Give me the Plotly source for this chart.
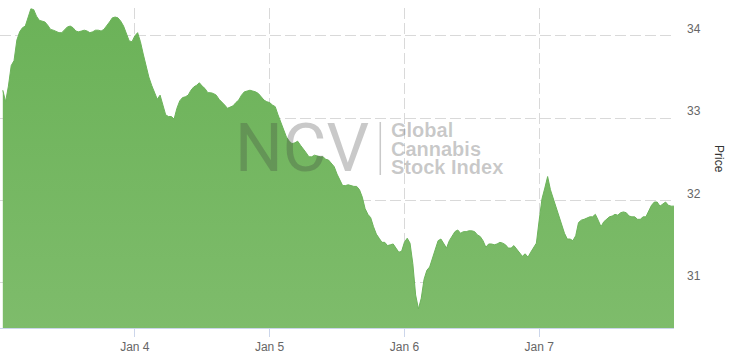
import pandas as pd
import plotly.graph_objects as go

# Half-hourly index values, Jan 3 00:30 -> Jan 8 00:00
start_time = "2021-01-03 00:30"
step = "30min"
price = [
    33.34, 33.20, 33.39, 33.64, 33.70, 33.95, 34.05, 34.10, 34.12, 34.22,
    34.33, 34.32, 34.24, 34.19, 34.18, 34.17, 34.13, 34.08, 34.07, 34.05,
    34.04, 34.04, 34.07, 34.11, 34.12, 34.10, 34.06, 34.05, 34.06, 34.07,
    34.06, 34.04, 34.05, 34.07, 34.07, 34.06, 34.08, 34.12, 34.17, 34.22,
    34.23, 34.22, 34.18, 34.12, 34.02, 33.94, 33.93, 34.00, 34.04, 33.93,
    33.78, 33.64, 33.50, 33.40, 33.32, 33.23, 33.28, 33.15, 33.04, 33.02,
    33.02, 32.99, 33.12, 33.21, 33.25, 33.26, 33.28, 33.34, 33.38, 33.40,
    33.43, 33.39, 33.36, 33.31, 33.31, 33.30, 33.28, 33.23, 33.20, 33.16,
    33.12, 33.14, 33.15, 33.19, 33.22, 33.28, 33.32, 33.33, 33.34, 33.33,
    33.32, 33.30, 33.26, 33.22, 33.20, 33.19, 33.16, 33.14, 33.04, 32.95,
    32.84, 32.77, 32.72, 32.69, 32.70, 32.72, 32.67, 32.63, 32.58, 32.53,
    32.53, 32.55, 32.54, 32.53, 32.53, 32.50, 32.49, 32.45, 32.41, 32.32,
    32.25, 32.18, 32.18, 32.19, 32.18, 32.17, 32.17, 32.13, 32.04, 31.90,
    31.83, 31.79, 31.68, 31.59, 31.54, 31.49, 31.49, 31.45, 31.46, 31.47,
    31.42, 31.37, 31.38, 31.49, 31.54, 31.48, 31.23, 30.85, 30.68, 30.81,
    31.04, 31.15, 31.19, 31.30, 31.41, 31.51, 31.53, 31.47, 31.42, 31.51,
    31.57, 31.62, 31.64, 31.60, 31.62, 31.62, 31.63, 31.63, 31.62, 31.58,
    31.56, 31.51, 31.43, 31.47, 31.47, 31.46, 31.47, 31.49, 31.48, 31.46,
    31.42, 31.42, 31.45, 31.41, 31.36, 31.32, 31.35, 31.31, 31.37, 31.42,
    31.48, 31.76, 32.02, 32.15, 32.29, 32.13, 32.02, 31.94, 31.83, 31.70,
    31.60, 31.53, 31.53, 31.51, 31.57, 31.73, 31.76, 31.77, 31.79, 31.80,
    31.80, 31.83, 31.76, 31.68, 31.74, 31.77, 31.80, 31.81, 31.83, 31.82,
    31.85, 31.86, 31.85, 31.81, 31.80, 31.80, 31.77, 31.77, 31.80, 31.80,
    31.87, 31.94, 31.98, 31.98, 31.93, 31.96, 31.98, 31.94, 31.93, 31.93,
]
times = pd.date_range(start_time, periods=len(price), freq=step)

x_tick_vals = ["2021-01-04", "2021-01-05", "2021-01-06", "2021-01-07"]
x_tick_text = ["Jan 4", "Jan 5", "Jan 6", "Jan 7"]
y_tick_vals = [31, 32, 33, 34]
x_range = ["2021-01-03 00:00", "2021-01-08 00:00"]
y_range = [30.448, 34.34]

FONT = "Liberation Sans, Arial, sans-serif"
GRID = "#d9d9d9"
WM = "rgba(60,60,60,0.28)"

fig = go.Figure()
fig.add_trace(go.Scatter(
    x=times, y=price, mode="lines", name="Price",
    line=dict(color="#6cb35a", width=1),
    fill="tozeroy",
    fillgradient=dict(type="vertical", start=y_range[0], stop=y_range[1],
                      colorscale=[[0, "#7ebc6b"], [1, "#6bb258"]]),
    hoverinfo="x+y",
))

fig.update_layout(
    width=731, height=358,
    margin=dict(l=0, r=57, t=8, b=30),
    paper_bgcolor="white", plot_bgcolor="white",
    showlegend=False,
    font=dict(family=FONT, size=12, color="#666666"),
    xaxis=dict(
        type="date", range=x_range,
        tickvals=x_tick_vals, ticktext=x_tick_text,
        showgrid=True, gridcolor=GRID, griddash="11px,4px", gridwidth=1,
        showline=True, linecolor="#ccd6eb", linewidth=1,
        ticks="outside", ticklen=8, tickcolor="#ccd6eb",
        tickfont=dict(size=12, color="#666666"),
        zeroline=False,
    ),
    yaxis=dict(
        side="right", range=y_range,
        tickvals=y_tick_vals,
        showgrid=True, gridcolor=GRID, griddash="11px,4px", gridwidth=1,
        showline=False, zeroline=False, ticks="",
        tickfont=dict(size=12, color="#666666"),
        ticklabelstandoff=12, ticklabelshift=-7,
    ),
)

# y-axis title reading top to bottom
fig.add_annotation(xref="paper", yref="paper", x=718.5 / 673.5, y=(328 - 159) / 320,
                   xanchor="center", yanchor="middle",
                   text="Price", textangle=90, showarrow=False,
                   font=dict(family=FONT, size=12, color="#333333"))

# watermark
fig.add_annotation(xref="paper", yref="paper", x=301.5 / 673.5, y=(328 - 147.5) / 320,
                   text="NCV", showarrow=False, xanchor="center", yanchor="middle",
                   font=dict(family="Roboto", size=67, color=WM))
fig.add_shape(type="line", xref="paper", yref="paper",
              x0=380 / 673.5, x1=380 / 673.5, y0=(328 - 175) / 320, y1=(328 - 122) / 320,
              line=dict(color=WM, width=1.5))
for txt, yc in [("Global", 130), ("Cannabis", 148.5), ("Stock Index", 166.5)]:
    fig.add_annotation(xref="paper", yref="paper", x=389 / 673.5, y=(328 - yc) / 320,
                       text=txt, showarrow=False, xanchor="left", yanchor="middle",
                       font=dict(family=FONT, size=20, color=WM, weight="bold"))

fig.write_html("out.html", config={"displayModeBar": False},
               post_script="document.body.style.margin='0';document.body.style.overflow='hidden';")
